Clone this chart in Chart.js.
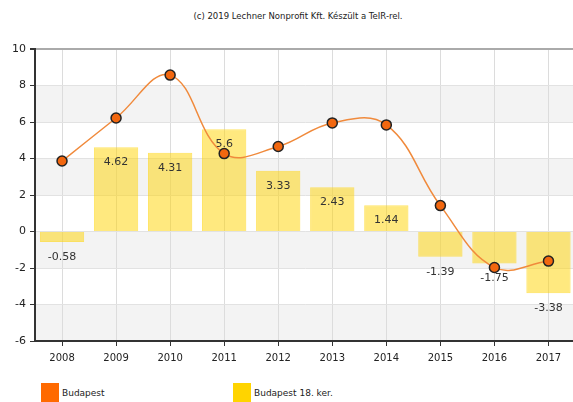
<!DOCTYPE html>
<html>
<head>
<meta charset="utf-8">
<script src="https://cdn.jsdelivr.net/npm/chart.js@4/dist/chart.umd.min.js"></script>
<style>
  html, body { margin: 0; padding: 0; background: #fff; }
  #wrap { position: relative; width: 573px; height: 402px; overflow: hidden; font-family: "DejaVu Sans", Verdana, sans-serif; }
  #canvasBox { position: absolute; left: 0; top: 0; width: 582px; height: 372px; }
  #credit { position: absolute; top: 11px; left: 298px; transform: translateX(-50%); font-size: 8.5px; color: #222; white-space: nowrap; }
  .leg { position: absolute; top: 383px; font-size: 9px; color: #222; white-space: nowrap; }
  .leg span.box { position: absolute; left: 0; top: 0; width: 18px; height: 20px; }
  .leg span.txt { position: absolute; left: 21px; top: 5px; }
</style>
</head>
<body>
<div id="wrap">
  <div id="credit">(c) 2019 Lechner Nonprofit Kft. Készült a TeIR-rel.</div>
  <div id="canvasBox"><canvas id="chart"></canvas></div>
  <div id="legend"></div>
</div>
<script>
// évek és értékek
const years = ['2008', '2009', '2010', '2011', '2012', '2013', '2014', '2015', '2016', '2017'];
const budapest = [3.86, 6.22, 8.57, 4.27, 4.66, 5.95, 5.84, 1.42, -1.97, -1.62];
const kerulet18 = [-0.58, 4.62, 4.31, 5.6, 3.33, 2.43, 1.44, -1.39, -1.75, -3.38];
const yTicks = [-6, -4, -2, 0, 2, 4, 6, 8, 10];

const orange = '#ff6a00';
const yellow = '#ffd400';

// szürke sávok a rács mögött
const bandPlugin = {
  id: 'bands',
  beforeDraw(chart) {
    const { ctx, chartArea, scales } = chart;
    const y = scales.y;
    ctx.save();
    ctx.fillStyle = '#f3f3f3';
    [[8, 6], [4, 2], [0, -2], [-4, -6]].forEach(([a, b]) => {
      const top = y.getPixelForValue(a);
      const bot = y.getPixelForValue(b);
      ctx.fillRect(chartArea.left, top, chartArea.right - chartArea.left, bot - top);
    });
    ctx.restore();
  }
};

// oszlopfeliratok, a vonal alá rajzolva
const barLabels = {
  id: 'barLabels',
  afterDatasetDraw(chart, args) {
    if (args.index !== 1) return;
    const { ctx, scales } = chart;
    const meta = chart.getDatasetMeta(1);
    ctx.save();
    ctx.font = '11px "DejaVu Sans", Verdana, sans-serif';
    ctx.fillStyle = '#333';
    ctx.textAlign = 'center';
    ctx.textBaseline = 'middle';
    meta.data.forEach((bar, i) => {
      const v = kerulet18[i];
      ctx.fillText(String(v), bar.x, scales.y.getPixelForValue(v) + 15);
    });
    ctx.restore();
  }
};

const chart = new Chart(document.getElementById('chart'), {
  data: {
    labels: years,
    datasets: [
      {
        type: 'line',
        label: 'Budapest',
        data: budapest,
        borderColor: '#f08a3c',
        borderWidth: 1.5,
        tension: 0.4,
        pointRadius: 5,
        pointBackgroundColor: '#f2670f',
        pointBorderColor: '#222',
        pointBorderWidth: 1.5,
        order: 0
      },
      {
        type: 'bar',
        label: 'Budapest 18. ker.',
        data: kerulet18,
        backgroundColor: 'rgba(255, 212, 0, 0.5)',
        borderColor: 'rgba(255, 212, 0, 0.6)',
        borderWidth: 1,
        barPercentage: 0.82,
        categoryPercentage: 1,
        order: 1
      }
    ]
  },
  options: {
    responsive: true,
    maintainAspectRatio: false,
    animation: false,
    layout: { padding: { top: 49, right: 0, left: 0, bottom: 0 } },
    plugins: { legend: { display: false }, tooltip: { enabled: false } },
    scales: {
      x: {
        offset: true,
        afterFit(scale) { scale.height = 31; },
        grid: { color: '#dcdcdc', tickColor: '#333', tickLength: 5, offset: false, drawOnChartArea: true },
        border: { color: '#333', width: 2 },
        ticks: { color: '#222', font: { size: 10, family: '"DejaVu Sans", Verdana, sans-serif' }, padding: 6 }
      },
      y: {
        min: -6,
        max: 10,
        afterFit(scale) { scale.width = 35; },
        afterBuildTicks(scale) { scale.ticks = yTicks.map(v => ({ value: v })); },
        grid: {
          color: ctx => ctx.tick && ctx.tick.value === 10 ? '#aaa' : '#e2e2e2',
          lineWidth: ctx => ctx.tick && ctx.tick.value === 10 ? 2 : 1,
          tickColor: '#333',
          tickLength: 5
        },
        border: { color: '#333', width: 2 },
        ticks: { color: '#222', font: { size: 11, family: '"DejaVu Sans", Verdana, sans-serif' }, padding: 4 }
      }
    }
  },
  plugins: [bandPlugin, barLabels]
});

// jelmagyarázat
const legend = document.getElementById('legend');
[[41, 'Budapest', orange], [233, 'Budapest 18. ker.', yellow]].forEach(([x, txt, col]) => {
  const d = document.createElement('div');
  d.className = 'leg';
  d.style.left = x + 'px';
  d.innerHTML = '<span class="box" style="background:' + col + '"></span><span class="txt">' + txt + '</span>';
  legend.appendChild(d);
});
</script>
</body>
</html>
